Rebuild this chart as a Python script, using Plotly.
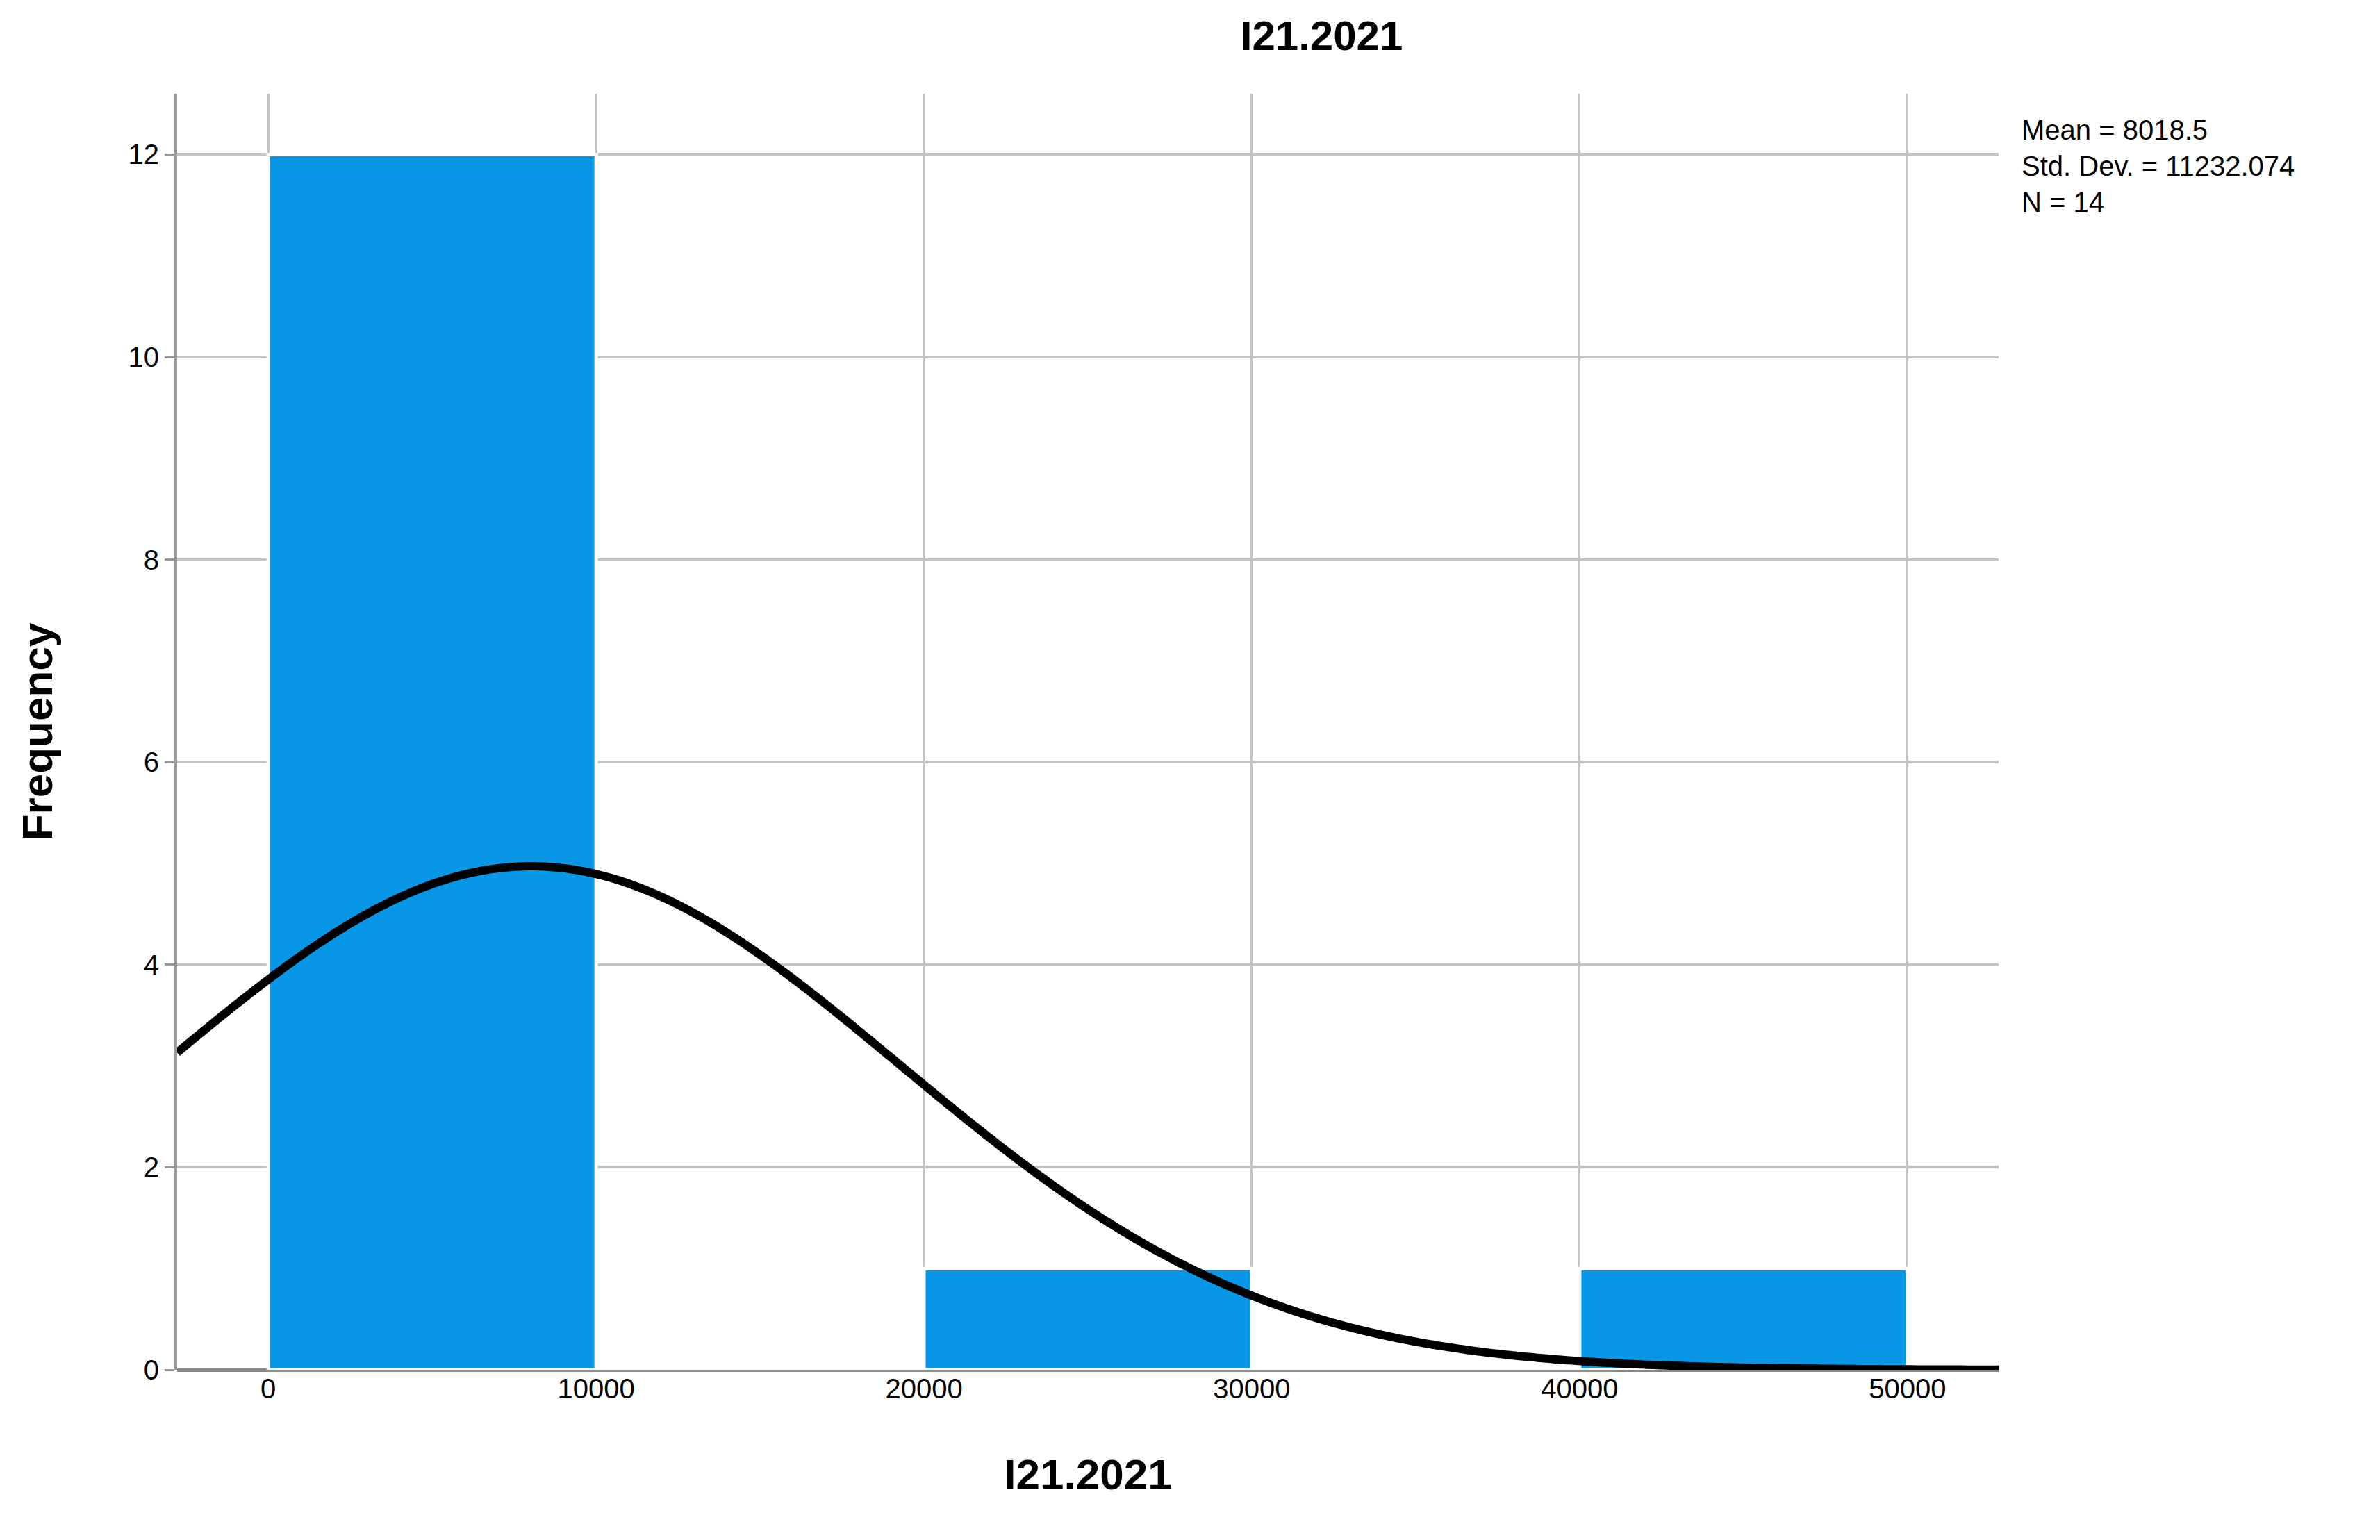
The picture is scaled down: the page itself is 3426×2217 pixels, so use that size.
import numpy as np
import plotly.graph_objects as go

bin_centers = [5000, 15000, 25000, 35000, 45000]
frequencies = [12, 0, 1, 0, 1]
bin_width = 10000
mean_val = 8018.5
sd_val = 11232.074
n_val = 14
x_ticks = [0, 10000, 20000, 30000, 40000, 50000]
x_tick_labels = ["0", "10000", "20000", "30000", "40000", "50000"]
y_ticks = [0, 2, 4, 6, 8, 10, 12]

xr = [-2780, 52780]
xs = np.linspace(xr[0], xr[1], 400)
ys = n_val * bin_width * np.exp(-0.5 * ((xs - mean_val) / sd_val) ** 2) / (sd_val * np.sqrt(2 * np.pi))

fig = go.Figure()
fig.add_trace(go.Bar(x=bin_centers, y=frequencies, width=bin_width,
                     marker=dict(color="#0897e6", line=dict(color="white", width=5)),
                     showlegend=False))
fig.add_trace(go.Scatter(x=xs, y=ys, mode="lines", line=dict(color="black", width=12, shape="spline"),
                         showlegend=False))
font = "Liberation Sans, Arial"
fig.update_layout(
    width=3426, height=2217, paper_bgcolor="white", plot_bgcolor="white",
    margin=dict(l=247, r=557, t=127, b=253),
    title=dict(text="<b>I21.2021</b>", x=0.553, xanchor="center", y=0.99, yanchor="top",
               font=dict(family=font, size=60, color="black")),
    font=dict(family=font, color="black"),
    annotations=[dict(text="Mean = 8018.5<br>Std. Dev. = 11232.074<br>N = 14",
                      xref="paper", yref="paper", x=1.012, y=0.985, xanchor="left", yanchor="top",
                      showarrow=False, align="left", font=dict(family=font, size=40, color="black"))],
)
fig.update_xaxes(range=xr, tickvals=x_ticks, ticktext=x_tick_labels, showgrid=True,
                 gridcolor="#c4c4c4", gridwidth=3,
                 zeroline=False, showline=False, tickfont=dict(size=40),
                 title=dict(text="<b>I21.2021</b>", font=dict(size=62), standoff=80))
fig.update_yaxes(range=[0, 12.6], tickvals=y_ticks, showgrid=True, gridcolor="#c4c4c4", gridwidth=4,
                 zeroline=True, zerolinecolor="#888888", zerolinewidth=5,
                 showline=True, linecolor="#999999", linewidth=4,
                 ticks="outside", ticklen=14, tickcolor="#999999", tickwidth=3,
                 tickfont=dict(size=40),
                 title=dict(text="<b>Frequency</b>", font=dict(size=62), standoff=90))
fig.write_html("out.html")
